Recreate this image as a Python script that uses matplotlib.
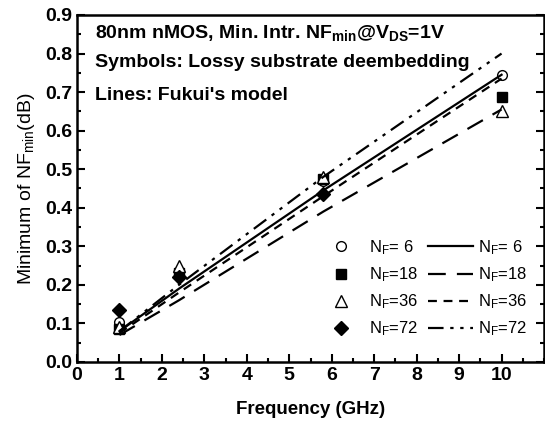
import matplotlib
matplotlib.use("Agg")
import matplotlib.pyplot as plt
from matplotlib.ticker import MultipleLocator

plt.rcParams['font.family'] = ['Liberation Sans', 'DejaVu Sans']
plt.rcParams['mathtext.default'] = 'regular'

# measured data (symbols)
freq = [1.0, 2.4, 5.8, 10.0]
nf6_meas = [0.105, 0.225, 0.47, 0.745]
nf18_meas = [0.085, 0.23, 0.475, 0.688]
nf36_meas = [0.09, 0.25, 0.48, 0.65]
nf72_meas = [0.134, 0.22, 0.435]
freq72 = [1.0, 2.4, 5.8]

# Fukui's model (lines)
model_freq = [1.0, 2.4, 5.8, 10.0]
nf6_model = [0.08, 0.19, 0.445, 0.745]
nf18_model = [0.07, 0.16, 0.39, 0.655]
nf36_model = [0.075, 0.18, 0.43, 0.735]
nf72_model = [0.08, 0.2, 0.48, 0.80]

labels = ['N$_F$= 6', 'N$_F$=18', 'N$_F$=36', 'N$_F$=72']
xticks = list(range(0, 11))
yticks = [0.0, 0.1, 0.2, 0.3, 0.4, 0.5, 0.6, 0.7, 0.8, 0.9]

fig = plt.figure(figsize=(5.45, 4.26), dpi=100)
ax = fig.add_axes([77/545, 64/426, 467/545, 347/426])

ms = 7
h1, = ax.plot(freq, nf6_meas, 'o', mfc='white', mec='black', ms=ms, mew=1.0, ls='none')
h2, = ax.plot(freq, nf18_meas, 's', mfc='black', mec='black', ms=ms, ls='none')
h3, = ax.plot(freq, nf36_meas, '^', mfc='white', mec='black', ms=ms + 1, mew=1.0, ls='none')
h4, = ax.plot(freq72, nf72_meas, 'D', mfc='black', mec='black', ms=ms, ls='none')

lw = 1.6
l1, = ax.plot(model_freq, nf6_model, '-', color='black', lw=lw)
l2, = ax.plot(model_freq, nf18_model, color='black', lw=lw, dashes=(8, 5))
l3, = ax.plot(model_freq, nf36_model, color='black', lw=lw, dashes=(4, 3))
l4, = ax.plot(model_freq, nf72_model, color='black', lw=lw, dashes=(7, 3, 1.5, 3, 1.5, 3))

ax.set_xlim(0, 11)
ax.set_ylim(0, 0.9)
ax.set_xticks(xticks)
ax.set_xticklabels([str(v) for v in xticks], fontweight='bold')
ax.set_yticks(yticks)
ax.set_yticklabels(['%.1f' % v for v in yticks], fontweight='bold')
ax.xaxis.set_minor_locator(MultipleLocator(0.5))
ax.yaxis.set_minor_locator(MultipleLocator(0.05))
ax.tick_params(which='both', direction='in', right=True, top=False, width=1.5)
ax.tick_params(which='major', length=6, labelsize=14)
ax.tick_params(which='minor', length=3)
for s in ax.spines.values():
    s.set_linewidth(1.8)

ax.set_xlabel('Frequency (GHz)', fontsize=13.5, fontweight='bold', labelpad=12)
ax.set_ylabel('Minimum of NF$_{min}$(dB)', fontsize=14, labelpad=6)

ax.text(0.039, 0.948, '80nm nMOS, Min. Intr. NF$_{min}$@V$_{DS}$=1V', transform=ax.transAxes,
        fontsize=14, fontweight='bold', va='center')
ax.text(0.039, 0.862, 'Symbols: Lossy substrate deembedding', transform=ax.transAxes,
        fontsize=14, fontweight='bold', va='center')
ax.text(0.039, 0.767, "Lines: Fukui's model", transform=ax.transAxes,
        fontsize=14, fontweight='bold', va='center')

leg = ax.legend([h1, h2, h3, h4, l1, l2, l3, l4], labels + labels, ncol=2, frameon=False,
                loc='lower right', bbox_to_anchor=(0.985, 0.04), fontsize=12,
                handlelength=2.7, handletextpad=0.3, columnspacing=0.6, labelspacing=0.5,
                borderaxespad=0.2)

fig.savefig('out.png', dpi=100)
